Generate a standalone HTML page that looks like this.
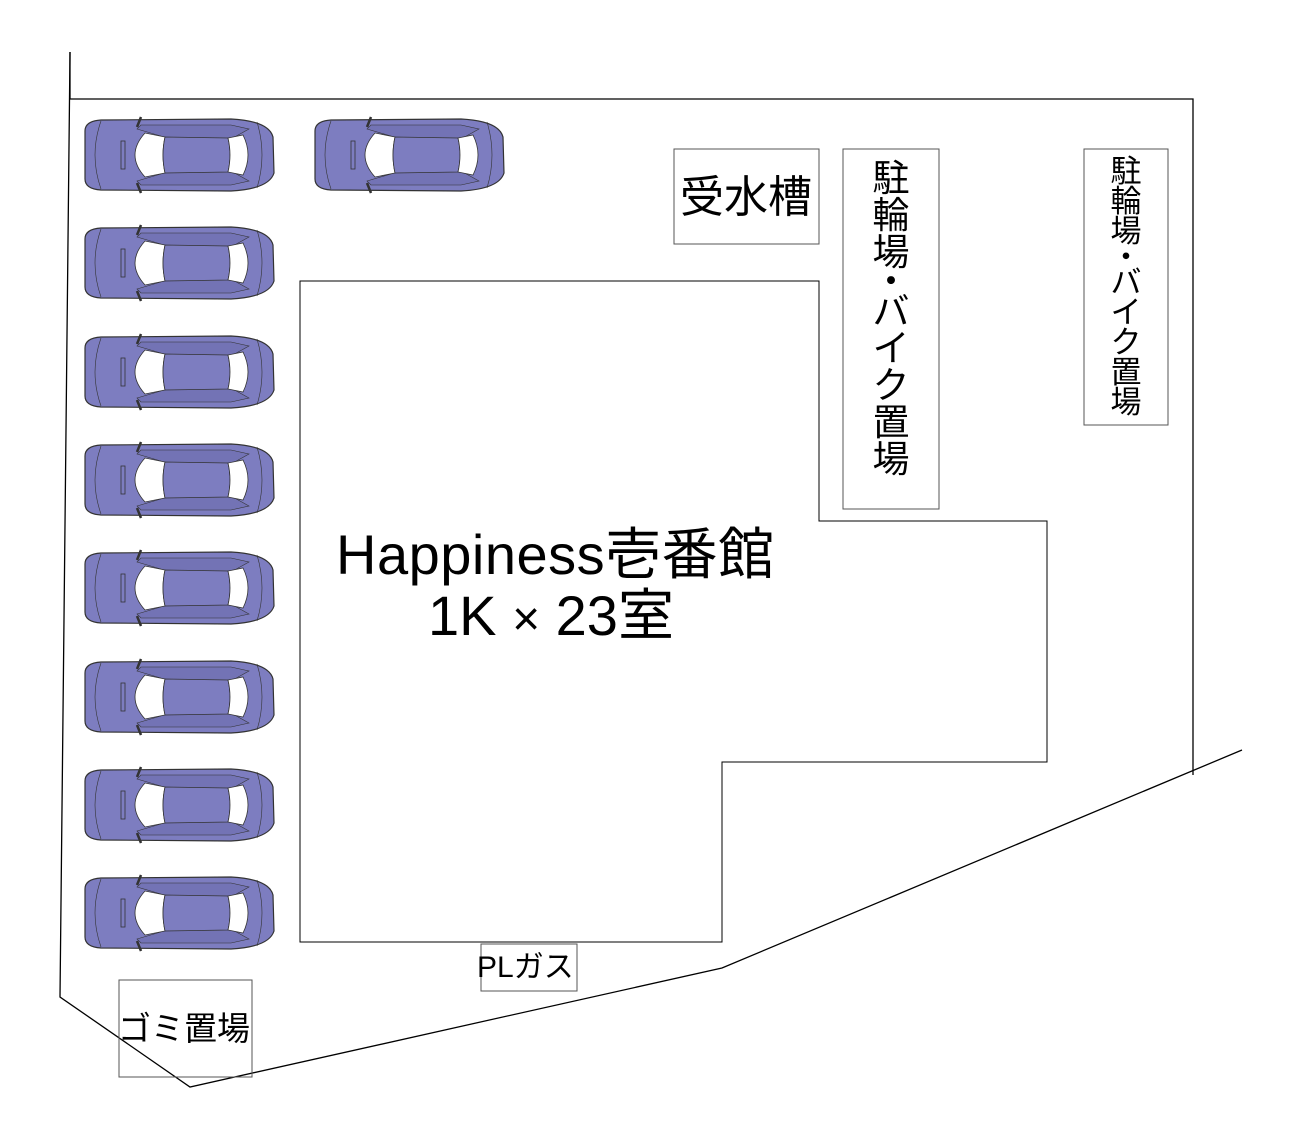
<!DOCTYPE html>
<html><head><meta charset="utf-8"><style>
body{margin:0;background:#fff;}
.t{position:absolute;font-family:"Liberation Sans","Noto Sans CJK JP",sans-serif;color:#000;white-space:nowrap;}
.col{position:absolute;font-family:"Liberation Sans","Noto Sans CJK JP",sans-serif;text-align:center;}
.col div{display:block;}
</style></head><body>
<div style="position:relative;width:1300px;height:1140px;overflow:hidden;">
<svg width="1300" height="1140" style="position:absolute;left:0;top:0">
<defs>
<g id="car">
 <path d="M4,14 Q4,4 20,3 L150,2 Q188,4 192,20 L193,56 Q188,72 150,74 L20,73 Q4,72 4,62 Z" fill="#7d7dc0" stroke="#333" stroke-width="1.2"/>
 <path d="M56,12 L90,22 L150,22 L168,12 L150,8 L60,8 Z" fill="#7373b5" stroke="#333" stroke-width="0.6"/>
 <path d="M56,64 L90,54 L150,54 L168,64 L150,68 L60,68 Z" fill="#7373b5" stroke="#333" stroke-width="0.6"/>
 <path d="M64,16 Q44,38 64,60 L84,56 Q80,38 84,20 Z" fill="#fff" stroke="#333" stroke-width="0.8"/>
 <path d="M84,20 Q80,38 84,56 L147,55 Q151,38 147,21 Z" fill="#7d7dc0" stroke="#333" stroke-width="0.8"/>
 <path d="M147,21 Q151,38 147,55 L162,58 Q172,38 162,18 Z" fill="#fff" stroke="#333" stroke-width="0.8"/>
 <rect x="40" y="24" width="4" height="28" fill="none" stroke="#333" stroke-width="0.8"/>
 <path d="M20,4 Q8,38 20,72" fill="none" stroke="#333" stroke-width="0.6"/>
 <path d="M176,5 Q186,38 176,71" fill="none" stroke="#333" stroke-width="0.6"/>
 <path d="M56,10 L60,0 M56,66 L60,76" stroke="#333" stroke-width="2.5"/>
</g>
</defs>
<g fill="none" stroke="#000" stroke-width="1.3">
 <polyline points="70,52 70,99 1193,99 1193,775"/>
 <polyline points="70,52 60,997 190,1087 722,968 1242,750"/>
 <polygon points="300,281 819,281 819,521 1047,521 1047,762 722,762 722,942 300,942" stroke-width="1"/>
</g>
<g fill="none" stroke="#555" stroke-width="1">
 <rect x="674" y="149" width="145" height="95"/>
 <rect x="843" y="149" width="96" height="360"/>
 <rect x="1084" y="149" width="84" height="276"/>
 <rect x="481" y="944" width="96" height="47"/>
 <rect x="119" y="980" width="133" height="97"/>
</g>
<use href="#car" x="81" y="117"/>
<use href="#car" x="311" y="117"/>
<use href="#car" x="81" y="225"/>
<use href="#car" x="81" y="334"/>
<use href="#car" x="81" y="442"/>
<use href="#car" x="81" y="550"/>
<use href="#car" x="81" y="659"/>
<use href="#car" x="81" y="767"/>
<use href="#car" x="81" y="875"/>
</svg>
<div class="t" style="left:680px;top:172px;font-size:44px;line-height:52px;">受水槽</div>
<div class="col" style="left:866px;top:160px;width:50px;font-size:37px;line-height:37px;">
<div>駐</div><div>輪</div><div>場</div><div style="height:22px;line-height:22px;">・</div><div>バ</div><div>イ</div><div>ク</div><div>置</div><div>場</div></div>
<div class="col" style="left:1101px;top:157px;width:50px;font-size:31px;line-height:30px;">
<div>駐</div><div>輪</div><div>場</div><div style="height:21px;line-height:21px;">・</div><div>バ</div><div>イ</div><div>ク</div><div>置</div><div>場</div></div>
<div class="t" style="left:336px;top:525px;font-size:56px;line-height:60px;letter-spacing:0.5px;">Happiness壱番館</div>
<div class="t" style="left:428px;top:586px;font-size:56px;line-height:60px;">1K <span style="font-size:48px">×</span> 23室</div>
<div class="t" style="left:477px;top:951px;font-size:30px;line-height:34px;">PLガス</div>
<div class="t" style="left:118px;top:1010px;font-size:33px;line-height:38px;">ゴミ置場</div>
</div>
</body></html>
